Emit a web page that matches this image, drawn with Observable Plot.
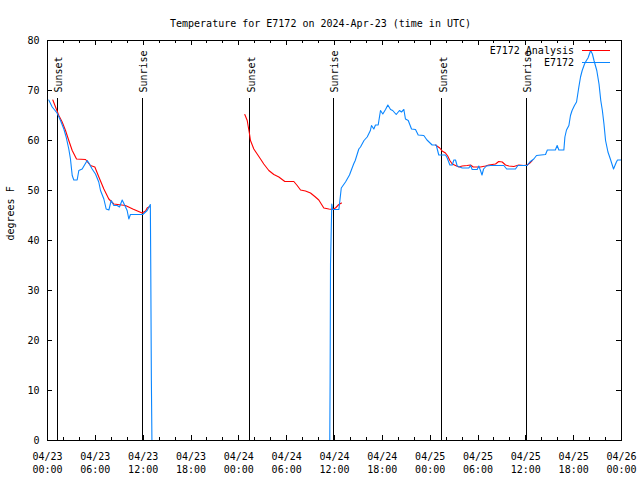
<!DOCTYPE html>
<html><head><meta charset="utf-8">
<script src="https://cdn.jsdelivr.net/npm/d3@7"></script>
<script src="https://cdn.jsdelivr.net/npm/@observablehq/plot@0.6"></script>
<style>body{margin:0;background:#fff} svg{display:block}</style>
</head><body><div id="chart"></div>
<script>
// ---- data (hours since 2024-04-23 00:00 UTC, degrees F) ----
const titleText = "Temperature for E7172 on 2024-Apr-23 (time in UTC)";
const yLabelText = "degrees F";
const legendNames = ["E7172 Analysis", "E7172"];
const legendColors = ["#ff0000", "#0a86ff"];

const yTicks = [0, 10, 20, 30, 40, 50, 60, 70, 80];
const xMajorHours = [0, 6, 12, 18, 24, 30, 36, 42, 48, 54, 60, 66, 72];
const xMinorHours = [2, 4, 8, 10, 14, 16, 20, 22, 26, 28, 32, 34, 38, 40, 44, 46, 50, 52, 56, 58, 62, 64, 68, 70];

const sunLabels = ["Sunset", "Sunrise", "Sunset", "Sunrise", "Sunset", "Sunrise"];
const sunHours = [1.29, 11.95, 25.38, 35.91, 49.46, 60.05];

const analysis1 = [[0.67,68.1],[1.42,65.0],[1.84,63.7],[2.26,62.0],[2.67,60.0],[3.10,58.0],[3.64,56.3],[4.77,56.2],[5.39,55.0],[5.94,54.7],[6.44,52.7],[7.07,50.3],[7.69,48.3],[8.32,47.3],[9.78,47.0],[10.70,46.3],[11.87,45.5],[12.30,45.9],[12.50,46.5],[12.83,46.8]];
const analysis2 = [[24.75,65.2],[25.05,64.0],[25.34,61.3],[25.46,60.0],[25.88,58.3],[26.30,57.3],[26.72,56.3],[27.13,55.3],[27.76,54.0],[28.39,53.2],[29.02,52.7],[29.77,51.8],[30.90,51.8],[31.32,51.0],[31.74,50.1],[32.36,49.9],[32.99,49.5],[33.53,48.8],[34.03,48.1],[34.66,46.5],[35.29,46.3],[35.71,46.2],[36.12,46.5],[36.54,47.2],[36.88,47.5]];
const analysis3 = [[48.67,59.1],[49.20,58.5],[49.50,57.9],[49.92,57.5],[50.20,56.9],[50.47,56.0],[50.77,55.3],[51.18,55.0],[51.60,54.7],[52.02,54.9],[52.64,55.0],[53.06,55.1],[53.40,54.7],[54.31,54.7],[54.94,54.9],[55.36,55.1],[56.20,55.3],[56.60,55.8],[57.04,55.7],[57.45,55.1],[57.87,54.9],[58.50,54.8],[59.12,55.1],[59.75,55.0],[60.17,55.1],[60.50,55.5],[60.80,56.0]];

const observed1 = [[0.16,68.1],[0.59,66.7],[1.20,65.5],[1.63,64.0],[2.05,62.3],[2.34,60.7],[2.67,58.3],[2.88,56.3],[3.10,53.0],[3.30,52.1],[3.72,52.1],[3.93,54.0],[4.35,54.3],[4.68,55.2],[4.98,56.0],[5.19,55.5],[5.60,54.3],[6.02,53.3],[6.43,51.7],[6.65,50.0],[7.07,48.3],[7.36,46.3],[7.70,46.1],[7.99,48.0],[8.32,47.0],[8.74,47.0],[9.03,46.7],[9.37,48.1],[9.70,47.0],[9.99,46.0],[10.20,44.3],[10.40,45.2],[11.95,45.2],[12.50,46.0],[12.83,47.0],[12.90,47.2],[12.95,35.3],[13.03,12.0],[13.10,0]];
const observed2 = [[35.41,0],[35.45,12],[35.50,35.3],[35.66,47.3],[35.75,46.2],[36.55,46.2],[36.85,50.5],[37.38,51.7],[37.88,53.1],[38.40,55.3],[38.60,56.0],[39.05,58.3],[39.26,58.7],[39.70,60.0],[40.10,60.7],[40.50,62.0],[40.64,63.0],[40.93,62.3],[41.14,63.1],[41.48,63.1],[41.77,66.0],[42.06,65.3],[42.40,66.2],[42.69,67.1],[43.03,66.2],[43.30,66.0],[43.74,65.2],[44.15,66.0],[44.40,65.7],[44.70,66.2],[44.90,64.3],[45.25,64.0],[45.66,62.3],[46.16,62.2],[46.50,61.1],[47.20,61.0],[47.60,60.1],[48.25,59.1],[48.76,59.1],[49.08,57.1],[49.93,57.1],[50.14,56.5],[50.47,55.1],[50.77,55.1],[50.97,56.1],[51.18,56.1],[51.39,54.9],[52.02,54.5],[52.85,54.5],[53.06,55.0],[53.27,54.2],[53.90,54.2],[54.10,54.9],[54.31,54.0],[54.50,53.1],[54.70,54.3],[55.05,54.9],[55.57,55.0],[57.24,55.0],[57.60,54.3],[58.70,54.3],[59.00,55.0],[60.17,55.0],[60.50,55.7],[61.00,56.3],[61.34,57.0],[62.47,57.2],[62.70,58.1],[63.70,58.1],[63.93,59.0],[64.14,58.1],[64.77,58.1],[64.90,60.7],[65.10,62.1],[65.40,63.0],[65.60,65.0],[65.80,66.0],[66.10,67.0],[66.36,67.7],[66.65,70.7],[66.86,72.7],[67.07,74.0],[67.36,75.3],[67.60,76.0],[67.80,76.5],[68.13,78.0],[68.35,77.3],[68.55,76.0],[68.90,74.0],[69.18,71.3],[69.40,68.0],[69.60,66.0],[69.80,63.3],[70.00,60.0],[70.30,57.7],[70.60,56.3],[71.00,54.3],[71.36,55.7],[71.50,56.1],[72.00,56.1]];

// ---- build ----
const startUTC = Date.UTC(2024, 3, 23);
const toDate = h => new Date(startUTC + h * 3600e3);
const rows = (pairs, seg) => pairs.map(([h, t]) => ({time: toDate(h), temp: t, seg}));
const analysisRows = [...rows(analysis1, 1), ...rows(analysis2, 2), ...rows(analysis3, 3)];
const observedRows = [...rows(observed1, 1), ...rows(observed2, 2)];
const sunIdx = sunHours.map((_, i) => i);
const FONT = "DejaVu Sans Mono";
const fmt = d3.utcFormat("%m/%d\n%H:%M");

function legendMark(index, scales, values, dims) {
  const g = d3.create("svg:g")
    .attr("font-family", FONT).attr("font-size", 10).attr("fill", "#000");
  const right = dims.width - dims.marginRight;
  legendNames.forEach((name, i) => {
    const y = dims.marginTop + 10 + i * 12;
    g.append("text").attr("x", right - 47).attr("y", y).attr("dy", "0.35em")
      .attr("text-anchor", "end").text(name);
    g.append("line").attr("x1", right - 39).attr("x2", right - 11)
      .attr("y1", y + 0.5).attr("y2", y + 0.5).attr("stroke", legendColors[i])
      .attr("shape-rendering", "crispEdges");
  });
  return g.node();
}

const crisp = {shapeRendering: "crispEdges", stroke: "#000"};

const chart = Plot.plot({
  width: 640, height: 480,
  marginLeft: 47, marginRight: 19, marginTop: 40, marginBottom: 40,
  style: {fontFamily: FONT, fontSize: "10px", background: "#fff", color: "#000"},
  x: {type: "utc", domain: [toDate(0), toDate(72)], axis: null},
  y: {domain: [0, 80], axis: null},
  marks: [
    Plot.ruleX(sunIdx, {x: i => toDate(sunHours[i]), insetTop: 58, ...crisp}),
    Plot.text(sunIdx, {x: i => toDate(sunHours[i]), text: i => sunLabels[i], frameAnchor: "top", dy: 52, dx: 1.5, rotate: -90, textAnchor: "start", lineAnchor: "middle", fill: "#000"}),
    Plot.line(analysisRows, {x: "time", y: "temp", z: "seg", stroke: legendColors[0], strokeWidth: 1.1}),
    Plot.line(observedRows, {x: "time", y: "temp", z: "seg", stroke: legendColors[1], strokeWidth: 1.1}),
    Plot.tickX(xMajorHours, {x: toDate, insetTop: 395, ...crisp}),
    Plot.tickX(xMajorHours, {x: toDate, insetBottom: 395, ...crisp}),
    Plot.tickX(xMinorHours, {x: toDate, insetTop: 397, ...crisp}),
    Plot.tickX(xMinorHours, {x: toDate, insetBottom: 397, ...crisp}),
    Plot.tickY(yTicks, {y: d => d, insetRight: 569, ...crisp}),
    Plot.tickY(yTicks, {y: d => d, insetLeft: 569, ...crisp}),
    Plot.axisY({ticks: yTicks, tickSize: 0, tickPadding: 8, label: null}),
    Plot.axisX({ticks: xMajorHours.map(toDate), tickSize: 0, tickPadding: 10, tickFormat: fmt, label: null, lineHeight: 1.3}),
    Plot.text([yLabelText], {text: d => d, frameAnchor: "left", dx: -37, rotate: -90, fill: "#000"}),
    Plot.text([titleText], {text: d => d, frameAnchor: "top", dy: -21, dx: -14, fill: "#000"}),
    Plot.frame({...crisp}),
    legendMark
  ]
});
document.getElementById("chart").append(chart);
</script>
</body></html>
